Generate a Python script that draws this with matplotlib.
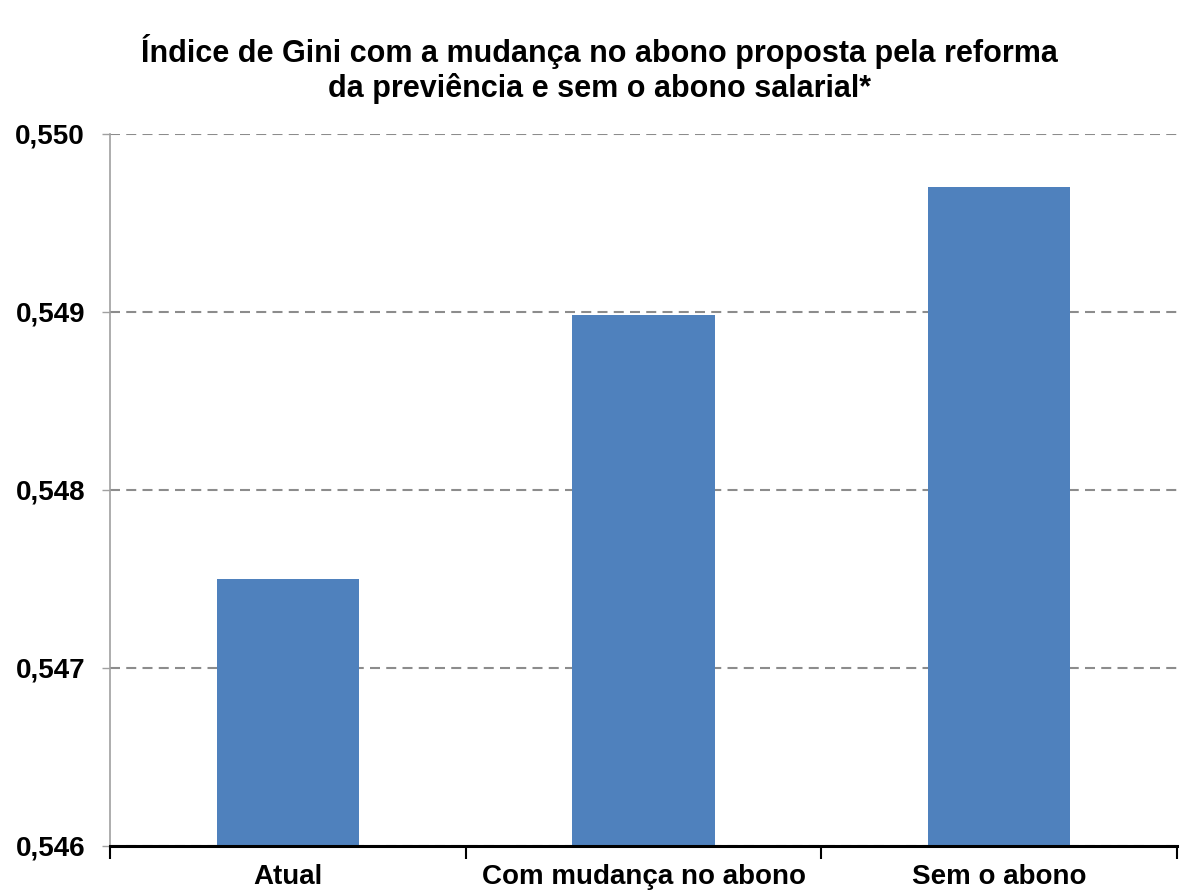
import matplotlib
matplotlib.use("Agg")
import matplotlib.pyplot as plt
import numpy as np
from matplotlib.ticker import FuncFormatter, FixedLocator

categories = ["Atual", "Com mudança no abono", "Sem o abono"]
values = [0.5475, 0.54898, 0.5497]
yticks = [0.546, 0.547, 0.548, 0.549, 0.550]
title = "Índice de Gini com a mudança no abono proposta pela reforma\nda previência e sem o abono salarial*"

plt.rcParams['font.family'] = ['Liberation Sans', 'DejaVu Sans']

fig = plt.figure(figsize=(11.83, 8.93), dpi=100)
ax = fig.add_axes([0.093, 0.053, 0.902, 0.797])

x = np.arange(len(categories))
ax.bar(x, values, width=0.4, color='#4F81BD', zorder=3)
ax.set_xlim(-0.5, len(categories) - 0.5)
ax.set_ylim(0.546, 0.550)

ax.yaxis.set_major_locator(FixedLocator(yticks))
ax.yaxis.set_major_formatter(FuncFormatter(lambda v, p: f"{v:.3f}".replace('.', ',')))
ax.grid(axis='y', color='#8c8c8c', linestyle=(0, (4.8, 3)), linewidth=1.5, zorder=0)

ax.set_xticks(np.arange(-0.5, len(categories)), minor=False)
ax.set_xticklabels([])
ax.set_xticks(x, minor=True)
ax.set_xticklabels(categories, minor=True)
ax.tick_params(axis='x', which='minor', length=0, pad=13, labelsize=20)
ax.tick_params(axis='x', which='major', length=9, width=1.5, direction='out', color='black')
ax.tick_params(axis='y', length=6, width=1, color='#a0a0a0', labelsize=20, pad=12)
for lab in ax.get_xticklabels(minor=True) + ax.get_yticklabels():
    lab.set_fontweight('bold')

for s in ['top', 'right']:
    ax.spines[s].set_visible(False)
ax.spines['left'].set_color('#a0a0a0')
ax.spines['left'].set_linewidth(1.2)
ax.spines['bottom'].set_color('black')
ax.spines['bottom'].set_linewidth(2.2)
ax.spines['bottom'].set_zorder(5)

fig.text(0.507, 0.962, title, ha='center', va='top', fontsize=22, fontweight='bold', linespacing=1.15)

fig.savefig("out.png", dpi=100)
